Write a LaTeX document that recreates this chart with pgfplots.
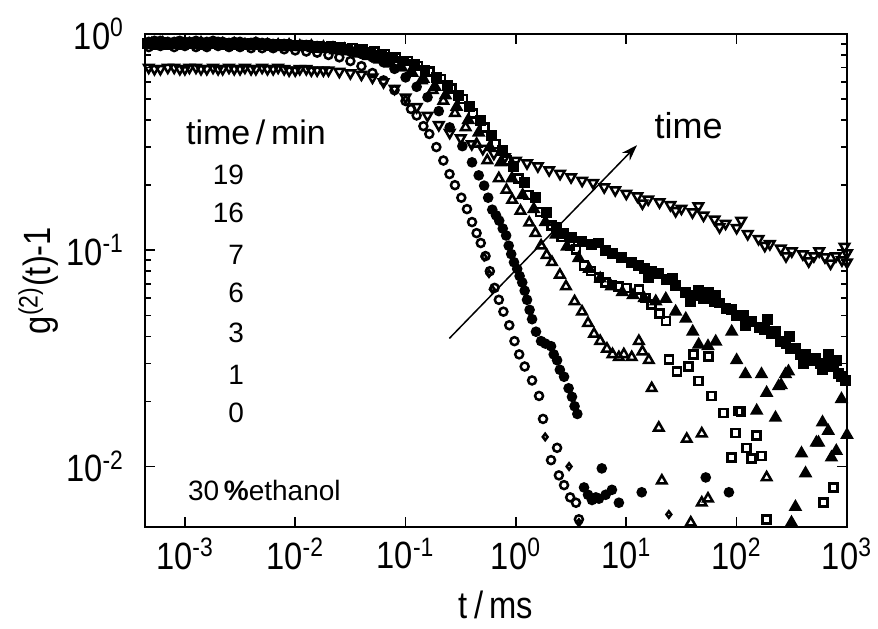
\documentclass[border=0pt]{standalone}
\usepackage{pgfplots}
\pgfplotsset{compat=1.18}
\usepackage{fontspec}
\setmainfont{Liberation Sans}
\newfontfamily\cond[FakeStretch=0.86]{Liberation Sans}
\usetikzlibrary{arrows.meta}
\newcommand{\tl}[1]{10\textsuperscript{#1}}
\begin{document}
\begin{tikzpicture}
\path[use as bounding box] (-72.5pt,-50.5pt) rectangle (366.5pt,263.5pt);
\begin{axis}[
 xmode=log, ymode=log,
 scale only axis, width=351pt, height=246.5pt,
 xmin=4.35e-4, xmax=1000, ymin=5.25e-3, ymax=1,
 xtick={1e-3,1e-2,1e-1,1,10,100,1000},
 xticklabels={\tl{-3},\tl{-2},\tl{-1},\tl{0},\tl{1},\tl{2},\tl{3}},
 ytick={1e-2,1e-1,1},
 yticklabels={\tl{-2},\tl{-1},\tl{0}},
 xminorticks=false,
 tick align=inside,
 major tick length=5pt, minor tick length=3pt,
 every tick/.style={black, line width=0.8pt},
 axis line style={line width=1pt},
 tick label style={font=\cond\fontsize{19}{21}\selectfont},
 xticklabel style={yshift=-2pt},
 yticklabel style={xshift=-7pt},
 label style={font=\cond\fontsize{19}{21}\selectfont},
 xlabel={t\,/\,ms}, ylabel={g\textsuperscript{(2)}(t)-1},
 xlabel style={at={(axis description cs:0.5,-0.158)}, anchor=center},
 ylabel style={at={(axis description cs:-0.152,0.5)}, anchor=center},
 every axis plot/.append style={only marks, black, line width=1.25pt},
]
% 19 min
\addplot[mark=triangle, mark size=2.7pt, mark options={rotate=180}] coordinates {
(4.7e-4,0.70)(6e-4,0.69)(8e-4,0.70)(1e-3,0.69)(1.26e-3,0.70)(1.58e-3,0.69)(2e-3,0.69)(2.51e-3,0.70)(3.16e-3,0.69)(3.98e-3,0.69)(5.01e-3,0.70)(6.31e-3,0.69)(7.94e-3,0.69)(1e-2,0.68)(1.26e-2,0.69)(1.58e-2,0.68)(2e-2,0.68)(2.51e-2,0.67)(3.16e-2,0.66)(3.98e-2,0.65)(5.01e-2,0.63)(6.31e-2,0.60)(7.94e-2,0.56)(0.1,0.51)(0.126,0.46)(0.158,0.42)(0.2,0.38)(0.251,0.35)(0.316,0.33)(0.398,0.31)(0.501,0.295)(0.631,0.28)(0.794,0.27)(1,0.26)(1.26,0.253)(1.58,0.245)(2,0.235)(2.51,0.226)(3.16,0.218)(3.98,0.21)(5.01,0.205)(6.31,0.196)(7.94,0.19)(10,0.183)(12.6,0.178)(15.8,0.172)(20,0.167)(25.1,0.162)(31.6,0.156)(39.8,0.150)(50.1,0.145)(63.1,0.139)(79.4,0.133)(100,0.127)(126,0.119)(158,0.113)(200,0.107)(251,0.102)(316,0.099)(398,0.096)(501,0.094)(631,0.093)(794,0.094)(1000,0.097)
(5.3e-4,0.69)(7e-4,0.70)(9e-4,0.69)(1.1e-3,0.70)(1.4e-3,0.69)(1.8e-3,0.70)(2.2e-3,0.69)(2.8e-3,0.69)(3.5e-3,0.70)(4.4e-3,0.69)(5.6e-3,0.69)(7e-3,0.70)(8.8e-3,0.68)(1.1e-2,0.69)(1.4e-2,0.68)(1.8e-2,0.68)
(14,0.165)(28,0.152)(45,0.16)(70,0.128)(110,0.137)(180,0.105)(280,0.094)(450,0.089)(560,0.099)(710,0.087)(900,0.09)(950,0.104)(1000,0.088)};
% 0 min
\addplot[mark=o, mark size=2pt] coordinates {
(4.7e-4,0.87)(6e-4,0.88)(8e-4,0.87)(1e-3,0.88)(1.26e-3,0.87)(1.58e-3,0.87)(2e-3,0.88)(2.51e-3,0.87)(3.16e-3,0.87)(3.98e-3,0.86)(5.01e-3,0.86)(6.31e-3,0.86)(7.94e-3,0.85)(1e-2,0.84)(1.26e-2,0.83)(1.58e-2,0.82)(2e-2,0.80)(2.51e-2,0.78)(3.16e-2,0.75)(3.98e-2,0.71)(5.01e-2,0.66)(6.31e-2,0.61)(7.94e-2,0.55)(0.1,0.49)(0.112,0.45)(0.126,0.42)(0.145,0.375)(0.164,0.345)(0.19,0.30)(0.22,0.26)(0.25,0.225)(0.28,0.20)(0.32,0.175)(0.36,0.155)(0.40,0.135)(0.44,0.12)(0.48,0.108)(0.53,0.094)(0.58,0.080)(0.64,0.067)(0.70,0.059)(0.77,0.052)(0.87,0.045)(0.97,0.038)(1.07,0.033)(1.2,0.029)(1.4,0.025)(1.62,0.0212)(1.76,0.0166)(2.08,0.0107)(2.36,0.0122)(2.45,0.0091)(2.73,0.0082)(3.1,0.0072)(3.5,0.0068)(3.72,0.0057)};
\addplot[mark=diamond, mark size=1.6pt] coordinates {
(0.515,0.093)(0.57,0.078)(0.61,0.066)(1.84,0.0137)(3.03,0.0100)(3.72,0.0055)(24.3,0.006)};
% 1 min
\addplot[mark=*, mark size=2pt] coordinates {
(4.7e-4,0.92)(6e-4,0.93)(8e-4,0.92)(1e-3,0.92)(1.26e-3,0.93)(1.58e-3,0.92)(2e-3,0.92)(2.51e-3,0.91)(3.16e-3,0.92)(3.98e-3,0.91)(5.01e-3,0.91)(6.31e-3,0.90)(7.94e-3,0.90)(1e-2,0.89)(1.26e-2,0.89)(1.58e-2,0.88)(2e-2,0.87)(2.51e-2,0.85)(3.16e-2,0.83)(3.98e-2,0.81)(5.01e-2,0.78)(6.31e-2,0.74)(7.94e-2,0.69)(0.1,0.63)(0.126,0.57)(0.158,0.51)(0.2,0.44)(0.251,0.37)(0.327,0.303)(0.40,0.255)(0.46,0.222)(0.515,0.199)(0.56,0.175)(0.61,0.154)(0.66,0.145)(0.705,0.137)(0.76,0.126)(0.815,0.117)(0.86,0.105)(0.906,0.096)(0.96,0.088)(1.026,0.082)(1.08,0.076)(1.14,0.071)(1.2,0.065)(1.26,0.059)(1.33,0.053)(1.40,0.048)(1.52,0.042)(1.69,0.038)(1.85,0.037)(2.08,0.036)(2.2,0.033)(2.36,0.031)(2.5,0.028)(2.73,0.026)(3.0,0.023)(3.22,0.021)(3.4,0.019)(3.6,0.0175)(4.14,0.0080)(4.5,0.0074)(4.89,0.0070)(5.3,0.0072)(5.65,0.0071)(6.0,0.0098)(6.5,0.0074)(7.41,0.0078)(8.57,0.0068)(13.8,0.0076)(52.5,0.0089)(85.1,0.0076)
(5.3e-4,0.93)(7e-4,0.92)(9e-4,0.93)(1.1e-3,0.92)(1.4e-3,0.92)(1.8e-3,0.93)(2.2e-3,0.92)(2.8e-3,0.92)(3.5e-3,0.91)(4.4e-3,0.92)(5.6e-3,0.91)(7e-3,0.90)(8.8e-3,0.90)(1.1e-2,0.89)(1.4e-2,0.88)(1.8e-2,0.87)};
% 3 min
\addplot[mark=triangle, mark size=2.7pt] coordinates {
(5e-4,0.90)(6.3e-4,0.91)(8.5e-4,0.90)(1.1e-3,0.90)(1.4e-3,0.91)(1.8e-3,0.90)(2.2e-3,0.90)(2.8e-3,0.90)(3.5e-3,0.89)(4.4e-3,0.90)(5.6e-3,0.89)(7e-3,0.89)(8.8e-3,0.89)(1.1e-2,0.88)(1.4e-2,0.88)(1.8e-2,0.87)(2.2e-2,0.86)(2.8e-2,0.85)(3.5e-2,0.83)(4.4e-2,0.80)(5.6e-2,0.77)(7e-2,0.74)(8.8e-2,0.70)(0.11,0.66)(0.14,0.61)(0.176,0.55)(0.22,0.49)(0.28,0.43)(0.35,0.37)(0.44,0.31)(0.55,0.26)(0.7,0.215)(0.82,0.19)(0.925,0.171)(1.1,0.152)(1.32,0.134)(1.5,0.12)(1.69,0.105)(1.9,0.095)(2.12,0.088)(2.5,0.077)(2.84,0.068)(3.4,0.058)(3.97,0.052)(4.5,0.046)(5.1,0.041)(5.8,0.038)(6.68,0.035)(7.5,0.033)(8.57,0.032)(9.5,0.033)(11.2,0.032)(13.0,0.038)(14,0.034)(16.0,0.031)(17.0,0.023)(19.7,0.0151)(35.3,0.0134)(48.3,0.0142)(21.0,0.0086)(48.3,0.0068)(55,0.0071)(38.4,0.0055)(187,0.0089)};
% 6 min
\addplot[mark=triangle*, mark size=2.7pt] coordinates {
(5.3e-4,0.89)(6.7e-4,0.88)(9e-4,0.89)(1.15e-3,0.89)(1.45e-3,0.88)(1.9e-3,0.89)(2.3e-3,0.88)(2.9e-3,0.89)(3.7e-3,0.88)(4.6e-3,0.88)(5.8e-3,0.88)(7.3e-3,0.87)(9.2e-3,0.87)(1.15e-2,0.87)(1.45e-2,0.86)(1.85e-2,0.85)(2.3e-2,0.84)(2.9e-2,0.83)(3.7e-2,0.81)(4.6e-2,0.79)(5.8e-2,0.76)(7.3e-2,0.73)(9.2e-2,0.70)(0.115,0.66)(0.145,0.62)(0.185,0.57)(0.23,0.52)(0.29,0.46)(0.37,0.40)(0.46,0.35)(0.58,0.30)(0.73,0.255)(0.92,0.215)(1.15,0.18)(1.45,0.155)(1.85,0.135)(2.3,0.118)(2.9,0.104)(3.7,0.092)(4.6,0.082)(5.8,0.074)(7.3,0.068)(9.2,0.064)(11.5,0.062)(14.5,0.06)(18.5,0.058)(22.8,0.0596)(28,0.052)(34.6,0.0482)(40,0.042)(45.3,0.0366)(55,0.036)(64.6,0.0378)(90.2,0.042)(100,0.031)(120,0.0267)(152,0.0181)(168,0.0267)(187,0.0219)(225,0.0168)(240,0.0235)(253,0.0238)(277,0.0267)(295,0.0275)(314,0.0055)(341,0.0065)(387,0.0115)(421,0.0093)(528,0.0129)(552,0.0129)(676,0.0146)(723,0.011)(891,0.0205)(800,0.0118)(600,0.016)(1000,0.014)};
% 7 min
\addplot[mark=square, mark size=2pt] coordinates {
(4.8e-4,0.91)(6.2e-4,0.92)(8.2e-4,0.91)(1.05e-3,0.91)(1.3e-3,0.92)(1.65e-3,0.91)(2.1e-3,0.91)(2.6e-3,0.91)(3.3e-3,0.90)(4.1e-3,0.91)(5.2e-3,0.90)(6.5e-3,0.90)(8.2e-3,0.90)(1.05e-2,0.89)(1.3e-2,0.89)(1.65e-2,0.88)(2.1e-2,0.88)(2.6e-2,0.87)(3.3e-2,0.86)(4.1e-2,0.85)(5.2e-2,0.83)(6.5e-2,0.81)(8.2e-2,0.78)(0.105,0.75)(0.13,0.71)(0.165,0.67)(0.21,0.62)(0.26,0.56)(0.33,0.50)(0.41,0.43)(0.52,0.37)(0.65,0.31)(0.82,0.26)(1.05,0.215)(1.3,0.18)(1.65,0.15)(2.1,0.13)(2.6,0.115)(3.1,0.105)(3.5,0.101)(4.14,0.085)(4.8,0.08)(5.65,0.075)(6.5,0.071)(7.41,0.069)(8.5,0.068)(10,0.067)(13,0.066)(15,0.06)(17,0.056)(20,0.051)(22.8,0.047)(24.3,0.0313)(28.7,0.0275)(36.8,0.029)(40.8,0.033)(55.8,0.0323)(45.3,0.0248)(59.4,0.0212)(76.2,0.0177)(104,0.0181)(98,0.0143)(152,0.0139)(123,0.0122)(137,0.0109)(168,0.0112)(90.2,0.011)(187,0.0057)(612,0.0068)(753,0.008)(110,0.018)};
% 16 min
\addplot[mark=square*, mark size=2.1pt] coordinates {
(4.6e-4,0.90)(5.6e-4,0.89)(7.6e-4,0.90)(9.5e-4,0.89)(1.2e-3,0.90)(1.5e-3,0.89)(1.9e-3,0.90)(2.4e-3,0.89)(3e-3,0.89)(3.8e-3,0.89)(4.8e-3,0.89)(6e-3,0.88)(7.6e-3,0.89)(9.5e-3,0.88)(1.2e-2,0.88)(1.5e-2,0.87)(1.9e-2,0.87)(2.4e-2,0.86)(3e-2,0.85)(3.8e-2,0.84)(4.8e-2,0.82)(6e-2,0.80)(7.6e-2,0.78)(9.5e-2,0.75)(0.12,0.72)(0.15,0.68)(0.19,0.63)(0.24,0.58)(0.3,0.52)(0.38,0.46)(0.48,0.40)(0.6,0.34)(0.76,0.29)(0.95,0.245)(1.2,0.205)(1.5,0.175)(1.9,0.15)(2.31,0.128)(2.7,0.12)(3.2,0.114)(3.97,0.11)(4.8,0.106)(5.65,0.108)(6.5,0.10)(7.5,0.097)(9,0.093)(11.2,0.088)(13,0.085)(14.5,0.082)(17,0.08)(19.7,0.078)(23,0.073)(28,0.069)(34.6,0.064)(40,0.062)(45,0.065)(50,0.06)(55.8,0.064)(63,0.058)(70,0.057)(80,0.054)(90.2,0.053)(100,0.05)(115,0.05)(137,0.047)(160,0.044)(180,0.043)(205,0.041)(225,0.042)(250,0.038)(280,0.037)(310,0.035)(341,0.035)(380,0.033)(420,0.033)(470,0.031)(518,0.0316)(580,0.03)(679,0.033)(720,0.03)(760,0.029)(836,0.027)(900,0.026)(970,0.025)
(16,0.075)(26,0.074)(38,0.058)(65,0.062)(120,0.045)(190,0.048)(300,0.04)(400,0.03)(600,0.028)(800,0.031)};
\draw[line width=0.75pt, -{Stealth[length=8pt,width=5.5pt]}] (axis cs:0.249,0.0391) -- (axis cs:12.5,0.306);
\node[font=\fontsize{18}{20}\selectfont] at (axis cs:36.8,0.378) {time};
\end{axis}
\node[font=\fontsize{17}{19}\selectfont] at (55.5pt,197.5pt) {time\,/\,min};
\begin{scope}[every node/.style={font=\fontsize{14}{16}\selectfont, anchor=east}]
\node at (53pt,176pt) {19};
\node at (53pt,157pt) {16};
\node at (53pt,136pt) {7};
\node at (53pt,117pt) {6};
\node at (53pt,97pt) {3};
\node at (53pt,76pt) {1};
\node at (53pt,57pt) {0};
\end{scope}
\node[font=\fontsize{14}{16}\selectfont, anchor=west] at (18pt,18.5pt) {30\,\textbf{\%}ethanol};
\end{tikzpicture}
\end{document}
